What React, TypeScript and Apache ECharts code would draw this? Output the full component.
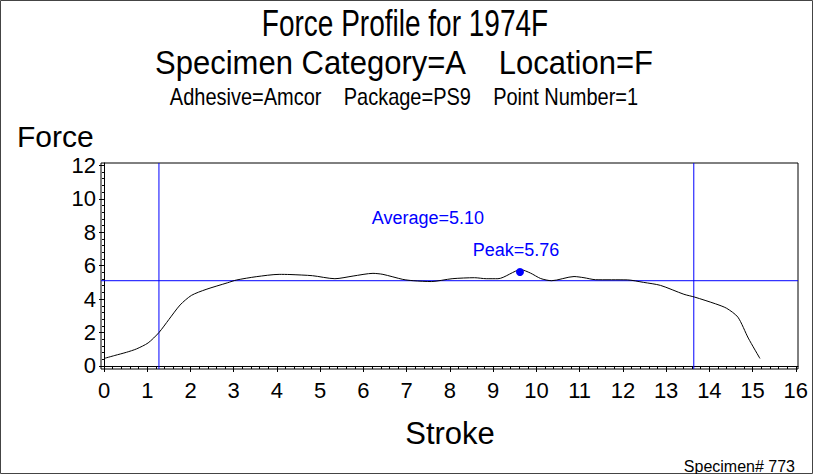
import React, { useEffect, useRef } from "react";
import * as echarts from "echarts";

const strokeX = [0.0, 0.25, 0.52, 0.75, 1.02, 1.27, 1.5, 1.76, 2.02, 2.36, 2.86, 3.06, 3.52, 4.05, 4.3, 4.82, 5.34, 5.76, 6.22, 6.45, 6.91, 7.15, 7.57, 8.05, 8.57, 8.84, 9.11, 9.64, 9.86, 10.1, 10.35, 10.87, 11.1, 11.37, 12.1, 12.48, 12.87, 13.41, 13.66, 14.14, 14.4, 14.66, 14.9, 15.17];
const forceY = [0.45, 0.63, 0.82, 1.02, 1.38, 2.0, 2.78, 3.65, 4.22, 4.58, 4.98, 5.14, 5.34, 5.48, 5.47, 5.4, 5.22, 5.38, 5.54, 5.48, 5.18, 5.1, 5.05, 5.22, 5.28, 5.22, 5.22, 5.76, 5.56, 5.23, 5.1, 5.35, 5.28, 5.16, 5.15, 5.0, 4.82, 4.29, 4.12, 3.72, 3.45, 2.92, 1.67, 0.45];

const averageForce = 5.1;
const peakForce = 5.76;
const peakPoint = [9.62, 5.62];
const startStroke = 1.27;
const endStroke = 13.64;

const xTickValues = [0, 1, 2, 3, 4, 5, 6, 7, 8, 9, 10, 11, 12, 13, 14, 15, 16];
const yTickValues = [0, 2, 4, 6, 8, 10, 12];

const titleText = "Force Profile for 1974F";
const subtitleText = "Specimen Category=A    Location=F";
const subtitle2Text = "Adhesive=Amcor    Package=PS9    Point Number=1";
const yAxisTitle = "Force";
const xAxisTitle = "Stroke";
const footnoteText = "Specimen# 773";
const averageLabel = "Average=" + averageForce.toFixed(2);
const peakLabel = "Peak=" + peakForce.toFixed(2);
const averageLabelPos = [7.49, 8.86];
const peakLabelPos = [9.53, 6.94];

const X_MIN = -0.07, X_MAX = 16.05, Y_MIN = -0.18, Y_MAX = 12.14;
const FONT = "'Liberation Sans', Arial, Helvetica, sans-serif";
const BLUE = "#0000ff";

function minorValues(majors: number[], parts: number) {
  const out: number[] = [];
  for (let i = 0; i < majors.length - 1; i++) {
    const step = (majors[i + 1] - majors[i]) / parts;
    for (let k = 1; k < parts; k++) out.push(+(majors[i] + step * k).toFixed(4));
  }
  return out;
}

export default function App() {
  const ref = useRef<HTMLDivElement>(null);
  useEffect(() => {
    if (!ref.current) return;
    const chart = echarts.init(ref.current, undefined, { renderer: "svg" });
    const lineData = strokeX.map((x, i) => [x, forceY[i]]);
    const refLine = (data: number[][]) => ({
      type: "line", data, symbol: "none", showSymbol: false, silent: true,
      lineStyle: { color: BLUE, width: 1, opacity: 1 }, itemStyle: { color: BLUE },
      emphasis: { disabled: true }, z: 2,
    });
    chart.setOption({
      animation: false,
      textStyle: { fontFamily: FONT },
      grid: { left: 101, top: 163, width: 697, height: 206, show: true, borderColor: "#000", borderWidth: 1, containLabel: false },
      xAxis: [
        {
          type: "value", min: X_MIN, max: X_MAX, position: "bottom",
          axisLine: { show: true, lineStyle: { color: "#000", width: 1 } },
          axisTick: { show: true, customValues: xTickValues, length: 6, lineStyle: { color: "#000" } },
          axisLabel: { customValues: xTickValues, fontSize: 22, color: "#000", margin: 10, fontFamily: FONT },
          splitLine: { show: false },
        },
        {
          type: "value", min: X_MIN, max: X_MAX, position: "bottom",
          axisLine: { show: false },
          axisTick: { show: true, customValues: minorValues(xTickValues, 5), length: 3, lineStyle: { color: "#000" } },
          axisLabel: { show: false },
          splitLine: { show: false },
        },
      ],
      yAxis: [
        {
          type: "value", min: Y_MIN, max: Y_MAX, position: "left",
          axisLine: { show: true, lineStyle: { color: "#000", width: 1 } },
          axisTick: { show: true, customValues: yTickValues, length: 5, lineStyle: { color: "#000" } },
          axisLabel: { customValues: yTickValues, fontSize: 22, color: "#000", margin: 5, fontFamily: FONT },
          splitLine: { show: false },
        },
        {
          type: "value", min: Y_MIN, max: Y_MAX, position: "left",
          axisLine: { show: false },
          axisTick: { show: true, customValues: minorValues(yTickValues, 5), length: 2, lineStyle: { color: "#000" } },
          axisLabel: { show: false },
          splitLine: { show: false },
        },
      ],
      series: [
        refLine([[X_MIN, averageForce], [X_MAX, averageForce]]),
        refLine([[startStroke, Y_MIN], [startStroke, Y_MAX]]),
        refLine([[endStroke, Y_MIN], [endStroke, Y_MAX]]),
        {
          type: "line", data: lineData, xAxisIndex: 0, yAxisIndex: 0,
          showSymbol: false, symbol: "none", smooth: 0.25,
          lineStyle: { color: "#000", width: 1 },
          itemStyle: { color: "#000" },
          z: 3,
        },
        {
          type: "scatter", data: [peakPoint], symbol: "circle", symbolSize: 8,
          itemStyle: { color: BLUE, opacity: 1 }, z: 4,
        },
        {
          type: "scatter", symbolSize: 0,
          itemStyle: { opacity: 1, color: BLUE },
          data: [
            { value: averageLabelPos, name: averageLabel },
            { value: peakLabelPos, name: peakLabel },
          ],
          label: { show: true, position: "inside", formatter: (p: any) => p.name, color: BLUE, fontSize: 18, fontFamily: FONT },
          z: 5,
        },
      ],
      graphic: [
        { type: "rect", shape: { x: 0.5, y: 0.5, width: 812, height: 473 }, style: { fill: "none", stroke: "#444", lineWidth: 1 }, silent: true },
        { type: "text", x: 405, y: 24, scaleY: 1.3, style: { text: titleText, fontSize: 28, fill: "#000", align: "center", verticalAlign: "middle", fontFamily: FONT } },
        { type: "text", x: 404, y: 63, scaleY: 1.08, style: { text: subtitleText, fontSize: 31, fill: "#000", align: "center", verticalAlign: "middle", fontFamily: FONT } },
        { type: "text", x: 404, y: 97, scaleY: 1.2, style: { text: subtitle2Text, fontSize: 20, fill: "#000", align: "center", verticalAlign: "middle", fontFamily: FONT } },
        { type: "text", x: 17, y: 136, style: { text: yAxisTitle, fontSize: 30, fill: "#000", align: "left", verticalAlign: "middle", fontFamily: FONT } },
        { type: "text", x: 450, y: 433, style: { text: xAxisTitle, fontSize: 31, fill: "#000", align: "center", verticalAlign: "middle", fontFamily: FONT } },
        { type: "text", x: 795, y: 466, style: { text: footnoteText, fontSize: 16, fill: "#000", align: "right", verticalAlign: "middle", fontFamily: FONT } },
      ],
    });
    return () => chart.dispose();
  }, []);
  return <div ref={ref} style={{ position: "absolute", left: 0, top: 0, width: 813, height: 474 }} />;
}
